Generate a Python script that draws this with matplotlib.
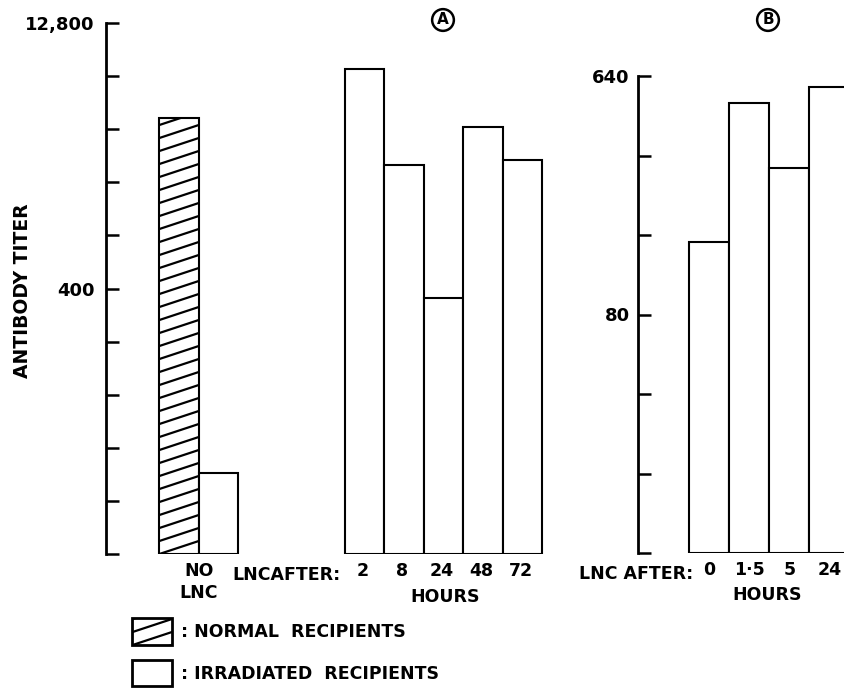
import matplotlib
matplotlib.use("Agg")
import matplotlib.pyplot as plt
import numpy as np
from matplotlib.patches import Rectangle
from matplotlib.lines import Line2D
from matplotlib.transforms import IdentityTransform
from matplotlib.ticker import FixedLocator, FixedFormatter, NullLocator

plt.rcParams['font.family'] = ['DejaVu Sans']
plt.rcParams['font.weight'] = 'bold'

# ---- data ----
no_lnc_label = "NO\nLNC"
normal_no_lnc = 3700
irradiated_no_lnc = 36
a_hours = ['2', '8', '24', '48', '72']
a_titers = [7000, 2000, 355, 3300, 2150]
b_hours = ['0', '1·5', '5', '24']
b_titers = [150, 505, 286, 580]
a_yticks = [12.5, 25, 50, 100, 200, 400, 800, 1600, 3200, 6400, 12800]
a_yticklabels = ['', '', '', '', '', '400', '', '', '', '', '12,800']
b_yticks = [10, 20, 40, 80, 160, 320, 640]
b_yticklabels = ['', '', '', '80', '', '', '640']

W, H = 844, 688
DPI = 100
fig = plt.figure(figsize=(W / DPI, H / DPI), dpi=DPI)

def px_axes(left, top, right, bottom):
    return fig.add_axes([left / W, 1 - bottom / H, (right - left) / W, (bottom - top) / H])

FS = 12.5
LW = 1.5

axA = px_axes(106, 23, 560, 554)
axB = px_axes(638, 76, 858, 553)

def style_axis(ax, ylim, yticks, ylabels, ypad):
    ax.set_yscale('log', base=2)
    ax.set_ylim(*ylim)
    for s in ['top', 'right', 'bottom']:
        ax.spines[s].set_visible(False)
    ax.spines['left'].set_linewidth(2.0)
    ax.yaxis.set_major_locator(FixedLocator(yticks))
    ax.yaxis.set_major_formatter(FixedFormatter(ylabels))
    ax.yaxis.set_minor_locator(NullLocator())
    ax.tick_params(axis='y', direction='in', length=9, width=1.8, pad=ypad, labelsize=FS + 0.5)
    ax.tick_params(axis='x', length=0, pad=6, labelsize=FS)
    ax.patch.set_visible(False)

style_axis(axA, (12.5, 12800), a_yticks, a_yticklabels, 8)
style_axis(axB, (10, 640), b_yticks, b_yticklabels, 6)

# Panel A bars
xA_no = [1.85, 2.85]
barsA0 = axA.bar(xA_no, [normal_no_lnc - 12.5, irradiated_no_lnc - 12.5], bottom=12.5, width=1.0,
                 color='white', edgecolor='black', linewidth=LW)
xA = np.arange(len(a_hours)) + 6.55
barsA = axA.bar(xA, np.array(a_titers) - 12.5, bottom=12.5, width=1.0,
                color='white', edgecolor='black', linewidth=LW)
axA.set_xlim(0, 11.5)
axA.set_xticks([2.35] + list(xA - 0.05))
axA.set_xticklabels([no_lnc_label] + a_hours, linespacing=1.25)

# Panel B bars
xB = np.arange(len(b_hours)) + 1.78
barsB = axB.bar(xB, np.array(b_titers) - 10, bottom=10, width=1.0,
                color='white', edgecolor='black', linewidth=LW)
axB.set_xlim(0, 5.5)
axB.set_xticks(list(xB))
axB.set_xticklabels(b_hours)

# Circled panel letters
for letter, xp in [('A', 443), ('B', 768)]:
    fig.text(xp / W, 1 - 20 / H, letter, ha='center', va='center', fontsize=11,
             bbox=dict(boxstyle='circle,pad=0.22', fc='white', ec='black', lw=1.8))

# Axis labels and texts
fig.text(23 / W, 1 - 291 / H, 'ANTIBODY TITER', rotation=90, ha='center', va='center', fontsize=13.5)
fig.text(287 / W, 1 - 575 / H, 'LNCAFTER:', ha='center', va='center', fontsize=FS)
fig.text(445 / W, 1 - 597 / H, 'HOURS', ha='center', va='center', fontsize=FS)
fig.text(636 / W, 1 - 574 / H, 'LNC AFTER:', ha='center', va='center', fontsize=FS)
fig.text(767 / W, 1 - 595 / H, 'HOURS', ha='center', va='center', fontsize=FS)

# Legend boxes
leg_hatch = Rectangle((132 / W, 1 - 645 / H), 40 / W, 27 / H, transform=fig.transFigure,
                      fc='white', ec='black', lw=2.0)
leg_plain = Rectangle((132 / W, 1 - 686 / H), 40 / W, 26 / H, transform=fig.transFigure,
                      fc='white', ec='black', lw=2.0)
fig.add_artist(leg_hatch)
fig.add_artist(leg_plain)
fig.text(181 / W, 1 - 632 / H, ': NORMAL  RECIPIENTS', ha='left', va='center', fontsize=FS)
fig.text(181 / W, 1 - 674 / H, ': IRRADIATED  RECIPIENTS', ha='left', va='center', fontsize=FS)

fig.canvas.draw()

def shallow_hatch(patch, spacing, slope, lw=1.6):
    bb = patch.get_window_extent()
    x0, x1, y0, y1 = bb.x0, bb.x1, bb.y0, bb.y1
    w = x1 - x0
    ystart = y0 - slope * w
    ys = np.arange(ystart, y1 + spacing, spacing)
    for yy in ys:
        ln = Line2D([x0, x1], [yy, yy + slope * w], transform=IdentityTransform(),
                    color='black', lw=lw, zorder=patch.get_zorder() + 0.1)
        ln.set_clip_path(patch)
        fig.add_artist(ln)

shallow_hatch(barsA0[0], 13, 0.33)
shallow_hatch(leg_hatch, 13, 0.33)

fig.savefig('out.png', dpi=DPI)
